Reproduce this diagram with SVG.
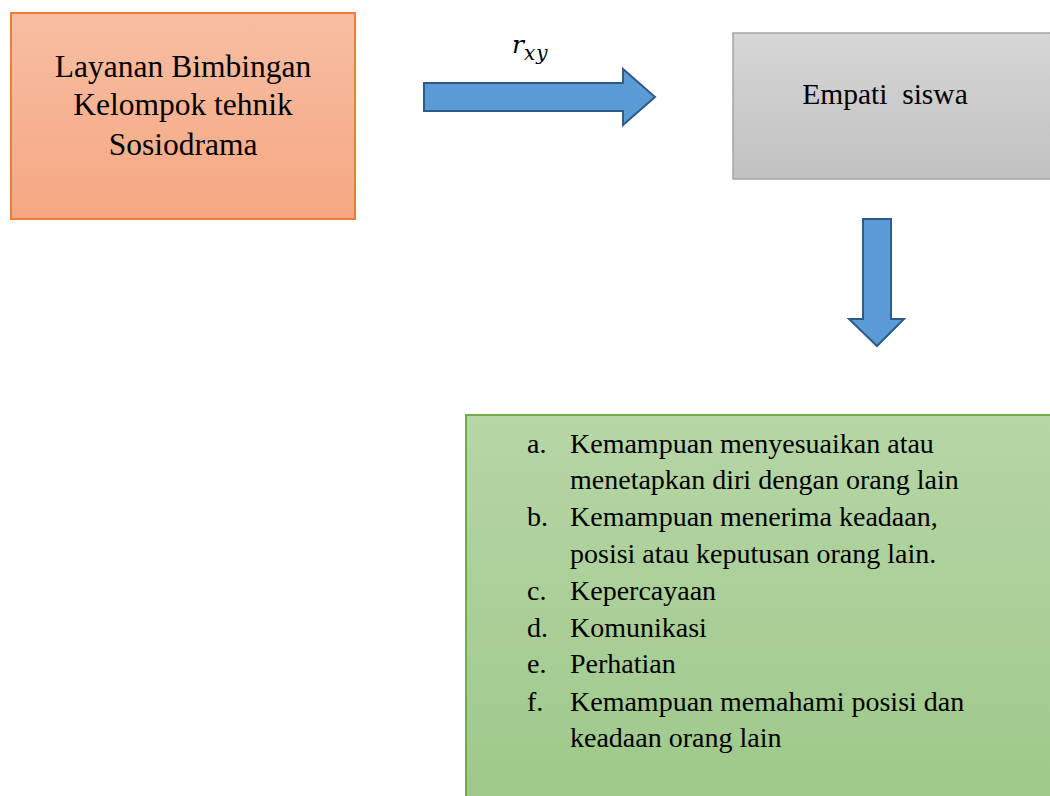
<svg xmlns="http://www.w3.org/2000/svg" width="1050" height="796" viewBox="0 0 1050 796">
<defs>
<linearGradient id="gOrange" x1="0" y1="0" x2="0" y2="1"><stop offset="0" stop-color="#f7bea2"/><stop offset="1" stop-color="#f5a782"/></linearGradient>
<linearGradient id="gGray" x1="0" y1="0" x2="0" y2="1"><stop offset="0" stop-color="#d6d6d6"/><stop offset="1" stop-color="#c1c1c1"/></linearGradient>
<linearGradient id="gGreen" x1="0" y1="0" x2="0" y2="1"><stop offset="0" stop-color="#b6d6a6"/><stop offset="1" stop-color="#9dc889"/></linearGradient>
<style>
.t{font-family:"Liberation Serif","Times New Roman",serif;fill:#000;}
.m{font-family:"DejaVu Serif","Liberation Serif",serif;font-style:italic;fill:#000;}
.arrow{fill:#5b9bd5;stroke:#2f5b88;stroke-width:2;stroke-linejoin:miter;}
</style>
</defs>
<rect width="1050" height="796" fill="#fff"/>
<g id="node-layanan">
<rect x="11" y="13" width="344" height="206" fill="url(#gOrange)" stroke="#ed7d31" stroke-width="2"/>
<text class="t" x="183" y="77" font-size="31.5" text-anchor="middle">Layanan Bimbingan</text>
<text class="t" x="183" y="115" font-size="31.5" text-anchor="middle">Kelompok tehnik</text>
<text class="t" x="183" y="155" font-size="31.5" text-anchor="middle">Sosiodrama</text>
</g>
<g id="node-empati">
<rect x="733" y="33" width="330" height="146" fill="url(#gGray)" stroke="#a5a5a5" stroke-width="1.5"/>
<text class="t" x="885" y="104" font-size="29.5" text-anchor="middle" xml:space="preserve">Empati  siswa</text>
</g>
<g id="node-aspek">
<rect x="466" y="415" width="600" height="400" fill="url(#gGreen)" stroke="#70ad47" stroke-width="2"/>
<g class="t" font-size="28">
<text x="527" y="453">a.</text><text x="570" y="453">Kemampuan menyesuaikan atau</text>
<text x="570" y="489">menetapkan diri dengan orang lain</text>
<text x="527" y="526">b.</text><text x="570" y="526">Kemampuan menerima keadaan,</text>
<text x="570" y="563">posisi atau keputusan orang lain.</text>
<text x="527" y="600">c.</text><text x="570" y="600">Kepercayaan</text>
<text x="527" y="637">d.</text><text x="570" y="637">Komunikasi</text>
<text x="527" y="673">e.</text><text x="570" y="673">Perhatian</text>
<text x="527" y="711">f.</text><text x="570" y="711">Kemampuan memahami posisi dan</text>
<text x="570" y="747">keadaan orang lain</text>
</g>
</g>
<g id="connectors">
<path class="arrow" d="M424,83 L623,83 L623,69 L655,97 L623,125 L623,111 L424,111 Z"/>
<path class="arrow" d="M863,219 L891,219 L891,319 L904,319 L877,346 L849,319 L863,319 Z"/>
<text class="m" x="512" y="53" font-size="25">r<tspan font-size="20" dy="7" letter-spacing="1">xy</tspan></text>
</g>
</svg>
